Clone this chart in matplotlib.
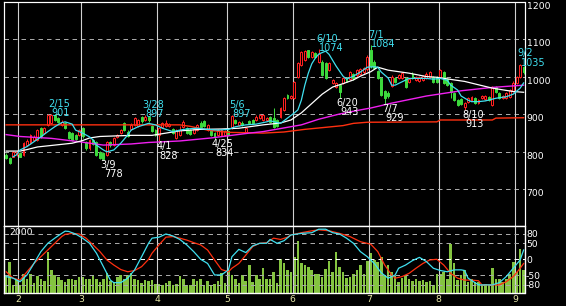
import matplotlib
matplotlib.use("Agg")
import matplotlib.pyplot as plt
import matplotlib.transforms as mtrans
import numpy as np

# ---------------- data (daily candles, index = trading day) ----------------
opens = [792, 783, 787, 793, 797, 792, 818, 823, 832, 832, 863, 850, 872, 876, 898, 890, 872, 876, 854, 850,
         845, 845, 863, 827, 809, 832, 827, 800, 797, 792, 827, 818, 840, 850, 876, 854, 861, 872, 869, 894,
         885, 893, 869, 858, 845, 866, 868, 868, 861, 836, 845, 867, 864, 858, 850, 858, 878, 883, 858, 858,
         850, 845, 846, 846, 856, 866, 885, 872, 878, 854, 883, 885, 885, 890, 885, 884, 893, 890, 885, 893,
         912, 952, 944, 944, 1000, 1032, 1045, 1072, 1053, 1064, 1040, 1041, 1037, 1018, 984, 973, 978, 984, 998, 994,
         1008, 1004, 1008, 1012, 1020, 1072, 1040, 1015, 997, 962, 958, 975, 997, 997, 997, 997, 986, 1008, 992, 990,
         992, 998, 1000, 1000, 1000, 1000, 1013, 995, 984, 957, 938, 941, 920, 933, 938, 944, 930, 944, 941, 946,
         925, 973, 957, 944, 944, 946, 962, 984, 1000, 1027]
highs = [797, 785, 803, 804, 800, 826, 834, 848, 844, 860, 866, 866, 900, 901, 900, 893, 884, 880, 856, 852,
         848, 862, 866, 830, 835, 834, 830, 803, 800, 830, 830, 840, 848, 862, 880, 857, 876, 893, 888, 896,
         897, 895, 872, 862, 866, 879, 884, 877, 864, 860, 868, 884, 867, 861, 864, 875, 882, 886, 875, 861,
         853, 861, 861, 859, 859, 897, 888, 883, 881, 867, 886, 888, 897, 902, 901, 893, 896, 917, 888, 920,
         947, 955, 953, 989, 1040, 1070, 1072, 1073, 1069, 1067, 1074, 1044, 1040, 1040, 995, 987, 982, 1001, 1001, 1015,
         1011, 1021, 1023, 1027, 1058, 1084, 1044, 1018, 1000, 966, 962, 1004, 1000, 1008, 1013, 1000, 998, 1012, 1003, 1003,
         1006, 1012, 1016, 1003, 1003, 1022, 1016, 998, 987, 960, 941, 944, 932, 947, 949, 947, 941, 952, 952, 949,
         976, 976, 960, 953, 960, 968, 989, 1003, 1035, 1030]
lows = [780, 768, 785, 790, 785, 790, 816, 820, 830, 830, 838, 848, 870, 874, 882, 878, 870, 860, 833, 830,
        832, 842, 838, 806, 806, 818, 790, 780, 778, 790, 814, 815, 838, 848, 855, 840, 858, 870, 866, 878,
        882, 880, 853, 842, 828, 863, 865, 865, 847, 833, 842, 864, 847, 844, 847, 855, 864, 866, 855, 843,
        834, 842, 843, 843, 843, 862, 875, 869, 869, 851, 875, 874, 882, 887, 882, 881, 877, 863, 865, 890,
        909, 941, 941, 941, 997, 1029, 1042, 1050, 1050, 1050, 1037, 1002, 994, 1015, 981, 970, 943, 981, 987, 991,
        993, 1001, 1005, 1009, 1017, 1025, 1020, 995, 948, 929, 944, 972, 983, 994, 995, 970, 983, 994, 989, 987,
        990, 995, 998, 983, 984, 997, 981, 976, 944, 935, 922, 925, 913, 930, 935, 927, 927, 941, 938, 935,
        922, 957, 941, 941, 941, 943, 959, 981, 997, 1008]
closes = [783, 770, 800, 800, 787, 824, 830, 845, 840, 858, 841, 863, 898, 899, 885, 880, 880, 863, 836, 832,
          834, 858, 841, 809, 832, 820, 792, 783, 781, 827, 817, 836, 845, 858, 858, 842, 872, 890, 885, 881,
          894, 884, 856, 845, 864, 876, 877, 874, 850, 856, 858, 880, 850, 847, 860, 872, 867, 869, 872, 846,
          840, 858, 858, 856, 846, 895, 878, 880, 872, 864, 878, 877, 894, 898, 898, 890, 880, 866, 868, 917,
          944, 944, 950, 986, 1037, 1067, 1070, 1053, 1066, 1053, 1060, 1005, 997, 1037, 992, 984, 960, 998, 990, 1012,
          996, 1018, 1020, 1024, 1052, 1028, 1025, 998, 952, 945, 950, 1000, 986, 1005, 1010, 973, 994, 997, 1000, 1000,
          1002, 1008, 1013, 986, 987, 1018, 984, 979, 960, 938, 925, 928, 930, 944, 946, 930, 938, 949, 949, 938,
          973, 960, 944, 950, 957, 965, 984, 1000, 1032, 1012]
volumes = [596, 1045, 258, 483, 258, 629, 483, 652, 337, 562, 483, 400, 1382, 764, 596, 539, 449, 371, 483, 483,
           420, 539, 539, 483, 483, 562, 483, 371, 483, 674, 404, 371, 539, 596, 483, 596, 674, 483, 427, 350,
           427, 400, 427, 315, 315, 258, 337, 404, 258, 300, 562, 483, 258, 258, 483, 393, 483, 258, 393, 258,
           315, 393, 674, 337, 764, 600, 483, 337, 596, 400, 933, 371, 596, 483, 854, 483, 483, 708, 337, 1124,
           1011, 764, 700, 1213, 1753, 1011, 933, 876, 764, 629, 629, 539, 798, 1079, 708, 1382, 876, 708, 517, 539,
           629, 787, 933, 629, 1079, 1326, 1101, 1045, 1213, 596, 933, 708, 562, 371, 517, 596, 483, 404, 483, 404,
           449, 371, 404, 258, 629, 629, 708, 483, 1629, 989, 427, 596, 764, 371, 483, 371, 371, 258, 315, 258,
           854, 483, 483, 371, 483, 652, 1045, 708, 1461, 764]

# month tick labels and first trading-day index of each month
month_labels = ["2", "3", "4", "5", "6", "7", "8", "9"]
month_first_day = [4, 22, 44, 64, 83, 105, 125, 147]

# moving averages (day index, price)
ma_short_days = [2, 3, 4, 6, 8, 10, 12, 14, 16, 17, 19, 20, 22, 24, 25, 26, 28, 29, 31, 33, 35, 36, 38, 41, 43,
                 45, 48, 50, 52, 55, 58, 61, 64, 66, 69, 72, 75, 76, 79, 81, 83, 84, 85, 86, 87, 88, 89, 90, 92,
                 93, 95, 97, 98, 100, 102, 104, 106, 107, 108, 110, 111, 112, 114, 116, 119, 121, 123, 125, 127,
                 128, 130, 131, 133, 134, 136, 138, 141, 144, 146, 148, 149]
ma_short_vals = [787, 792, 805, 814, 827, 840, 854, 867, 878, 880, 874, 858, 850, 840, 832, 818, 805, 800, 805, 823,
                 845, 858, 867, 876, 872, 863, 854, 858, 861, 863, 860, 858, 860, 867, 872, 874, 880, 883, 876, 890,
                 904, 912, 938, 978, 1010, 1035, 1050, 1061, 1069, 1060, 1029, 1002, 994, 1002, 1013, 1026, 1027,
                 1026, 1013, 997, 978, 978, 987, 996, 996, 996, 994, 996, 991, 978, 965, 949, 938, 934, 934, 936,
                 943, 947, 954, 970, 984]
ma_mid_days = [0, 4, 6, 9, 14, 19, 22, 24, 27, 36, 42, 46, 50, 56, 62, 67, 74, 79, 82, 85, 88, 91, 94, 97, 100,
               102, 105, 107, 110, 116, 121, 124, 129, 132, 136, 140, 146, 149]
ma_mid_vals = [802, 802, 806, 813, 818, 823, 830, 837, 841, 844, 844, 850, 856, 860, 861, 863, 872, 877, 885, 904,
               929, 954, 973, 982, 992, 1002, 1014, 1026, 1018, 1010, 1001, 999, 992, 988, 979, 970, 961, 959]
ma_long_days = [0, 4, 13, 21, 28, 36, 41, 50, 59, 70, 74, 85, 90, 96, 102, 105, 111, 121, 131, 140, 149]
ma_long_vals = [846, 841, 836, 827, 818, 821, 825, 829, 837, 850, 854, 872, 887, 901, 912, 917, 930, 949, 963, 972, 978]
ma_vlong_days = [0, 50, 53, 58, 64, 74, 80, 86, 97, 100, 104, 124, 125, 140, 141, 149]
ma_vlong_vals = [872, 872, 868, 858, 852, 850, 853, 860, 870, 876, 879, 880, 885, 885, 890, 891]

# oscillator (lower panel)
osc_fast_days = [0, 2, 4, 6, 8, 10, 12, 14, 16, 17, 18, 20, 22, 24, 26, 28, 30, 31, 33, 35, 37, 39, 41, 42, 44,
                 46, 48, 50, 52, 54, 56, 58, 60, 62, 64, 65, 67, 69, 71, 73, 75, 76, 78, 80, 82, 85, 88, 90, 92,
                 94, 96, 98, 100, 102, 104, 106, 108, 110, 112, 113, 115, 117, 119, 121, 123, 125, 127, 129, 131,
                 132, 133, 135, 136, 138, 140, 142, 144, 146, 148, 149]
osc_fast_vals = [-54, -59, -70, -49, -13, 24, 50, 66, 81, 88, 87, 79, 66, 50, 19, -23, -65, -73, -73, -59, -33, 8,
                 50, 66, 69, 79, 73, 62, 45, 24, 0, -13, -49, -49, -33, 8, 31, 21, 42, 50, 50, 62, 50, 58, 76, 81,
                 83, 94, 94, 83, 79, 66, 50, 24, 8, -13, -42, -59, -49, -28, -18, -4, 6, -7, -28, -35, -39, -33,
                 -33, -35, -59, -73, -80, -80, -80, -73, -54, -28, -2, 29]
osc_slow_days = [0, 2, 4, 6, 8, 10, 12, 14, 16, 17, 19, 21, 23, 25, 27, 29, 31, 33, 35, 37, 39, 41, 42, 44, 46,
                 48, 50, 52, 54, 56, 58, 60, 62, 64, 65, 67, 69, 71, 73, 75, 77, 79, 81, 82, 85, 88, 90, 93, 96,
                 99, 102, 105, 107, 109, 111, 112, 114, 116, 118, 120, 122, 124, 126, 128, 130, 132, 134, 136,
                 137, 140, 142, 144, 146, 148, 149]
osc_slow_vals = [-39, -59, -65, -39, -13, 8, 29, 50, 71, 78, 81, 79, 66, 45, 24, -2, -18, -32, -39, -35, -23, 0,
                 19, 45, 69, 71, 66, 60, 52, 45, 29, -2, -32, -39, -28, -13, 13, 40, 50, 52, 66, 62, 69, 76, 83,
                 89, 92, 89, 81, 71, 55, 47, 24, -18, -49, -59, -54, -44, -28, -13, -2, 0, -18, -44, -59, -65,
                 -65, -67, -80, -80, -80, -70, -54, -28, -13]

# swing labels (day index, date text, price)
peak_labels = [(13, "2/15", 901), (40, "3/28", 897), (65, "5/6", 897), (90, "6/10", 1074),
               (105, "7/1", 1084), (148, "9/2", 1035)]
trough_labels = [(28, "3/9", 778), (44, "4/1", 828), (60, "4/25", 834), (96, "6/20", 943),
                 (109, "7/7", 929), (132, "8/10", 913)]

price_ticks = [700, 800, 900, 1000, 1100, 1200]
osc_ticks = [80, 50, 0, -50, -80]

# ---------------- styling ----------------
W, H, DPI = 566, 306, 100
PX = 72.0 / DPI   # points per pixel
RED = "#ff2020"
GREEN = "#3cd83c"
CYAN = "#40e0f0"
MAGENTA = "#f020f0"
LONGRED = "#ff3010"
VOL = "#84c440"
GRID = "#a8a8a8"
VGRID = "#d0d0d0"
MONTHCOL = "#e8e8a8"
FS = 7.0
FS_AX = 6.7

fig = plt.figure(figsize=(W / DPI, H / DPI), dpi=DPI, facecolor="black")


def rect(l, t, r, b):
    return [l / W, 1 - b / H, (r - l) / W, (b - t) / H]


ax = fig.add_axes(rect(4, 2, 524.5, 226))
ax2 = fig.add_axes(rect(4, 226, 524.5, 293))
ax3 = ax2.twinx()

XL = (-0.62, 149.25)
for a in (ax, ax2, ax3):
    a.set_xlim(*XL)
    a.set_facecolor("black")
    a.set_xticks([])
    a.set_yticks([])
    for s in a.spines.values():
        s.set_color("white")
        s.set_linewidth(PX * 1.2)
ax3.patch.set_visible(False)

ax.set_ylim(602, 1200)
ax2.set_ylim(0, 2245)
ax3.set_ylim(-105.3, 104)


def off(transform, dx_px, dy_px):
    return mtrans.offset_copy(transform, fig=fig, x=dx_px * PX, y=dy_px * PX, units="points")


# grid lines
for v in price_ticks[:-1]:
    ax.axhline(v, color=GRID, lw=PX, ls=(0, (4.5, 4)), zorder=1)
for m in month_first_day:
    ax.axvline(m - 0.5, color=VGRID, lw=PX * 1.1, zorder=1)
    ax3.axvline(m - 0.5, color=VGRID, lw=PX * 1.1, zorder=1)
for v in osc_ticks:
    ax3.axhline(v, color=("white" if v == 0 else GRID), lw=PX, ls=(0, (4.5, 4)), zorder=1)

# candles
o = np.array(opens, float)
h = np.array(highs, float)
l = np.array(lows, float)
c = np.array(closes, float)
idx = np.arange(len(c))
up = c >= o
edge = np.where(up, RED, GREEN)
face = np.where(up, "black", GREEN)
ax.vlines(idx, l, h, colors=edge, lw=PX, zorder=3)
ax.bar(idx, np.maximum(np.abs(c - o), 0.8), bottom=np.minimum(o, c), width=0.55,
       color=face, edgecolor=edge, linewidth=PX, zorder=4)

# moving averages
ax.plot(ma_vlong_days, ma_vlong_vals, color=LONGRED, lw=1.0, zorder=5)
ax.plot(ma_long_days, ma_long_vals, color=MAGENTA, lw=1.0, zorder=5)
ax.plot(ma_mid_days, ma_mid_vals, color="white", lw=0.9, zorder=6)
ax.plot(ma_short_days, ma_short_vals, color=CYAN, lw=0.9, zorder=7)

# swing labels
for d, txt, p in peak_labels:
    ax.text(d, p, txt, transform=off(ax.transData, -2.7, 7.5), ha="left", va="baseline",
            color=CYAN, fontsize=FS, zorder=8)
    ax.text(d, p, str(p), transform=off(ax.transData, 0.5, -2.0), ha="left", va="baseline",
            color=CYAN, fontsize=FS, zorder=8)
for d, txt, p in trough_labels:
    ax.text(d, p, txt, transform=off(ax.transData, -2.7, -8.0), ha="left", va="baseline",
            color="white", fontsize=FS, zorder=8)
    ax.text(d, p, str(p), transform=off(ax.transData, 0.5, -17.2), ha="left", va="baseline",
            color="white", fontsize=FS, zorder=8)

# price axis labels (right)
for v in price_ticks:
    ax.text(1.0, v, str(v), transform=off(ax.get_yaxis_transform(), 2.2, 0.0), ha="left", va="top",
            color="white", fontsize=FS_AX, clip_on=False)

# lower panel: volume + oscillator
ax2.bar(idx, volumes, width=0.75, color=VOL, zorder=2)
ax3.plot(osc_slow_days, osc_slow_vals, color=LONGRED, lw=0.9, zorder=4)
ax3.plot(osc_fast_days, osc_fast_vals, color=CYAN, lw=0.9, zorder=5)
for v in osc_ticks:
    ax3.text(1.0, v, str(v), transform=off(ax3.get_yaxis_transform(), 1.5, -1.0), ha="left",
             va="center", color="white", fontsize=FS_AX, clip_on=False)
ax2.text(0.0, 1.0, "2000", transform=off(ax2.transAxes, 5.0, -2.3), ha="left", va="top",
         color="white", fontsize=FS_AX, zorder=9)

# month labels
for m, lab in zip(month_first_day, month_labels):
    ax3.text(m - 0.5, 0.0, lab, transform=off(ax3.get_xaxis_transform(), 0.0, -2.2), ha="center",
             va="top", color=MONTHCOL, fontsize=FS_AX, clip_on=False)

fig.savefig("out.png", dpi=DPI, facecolor="black")
